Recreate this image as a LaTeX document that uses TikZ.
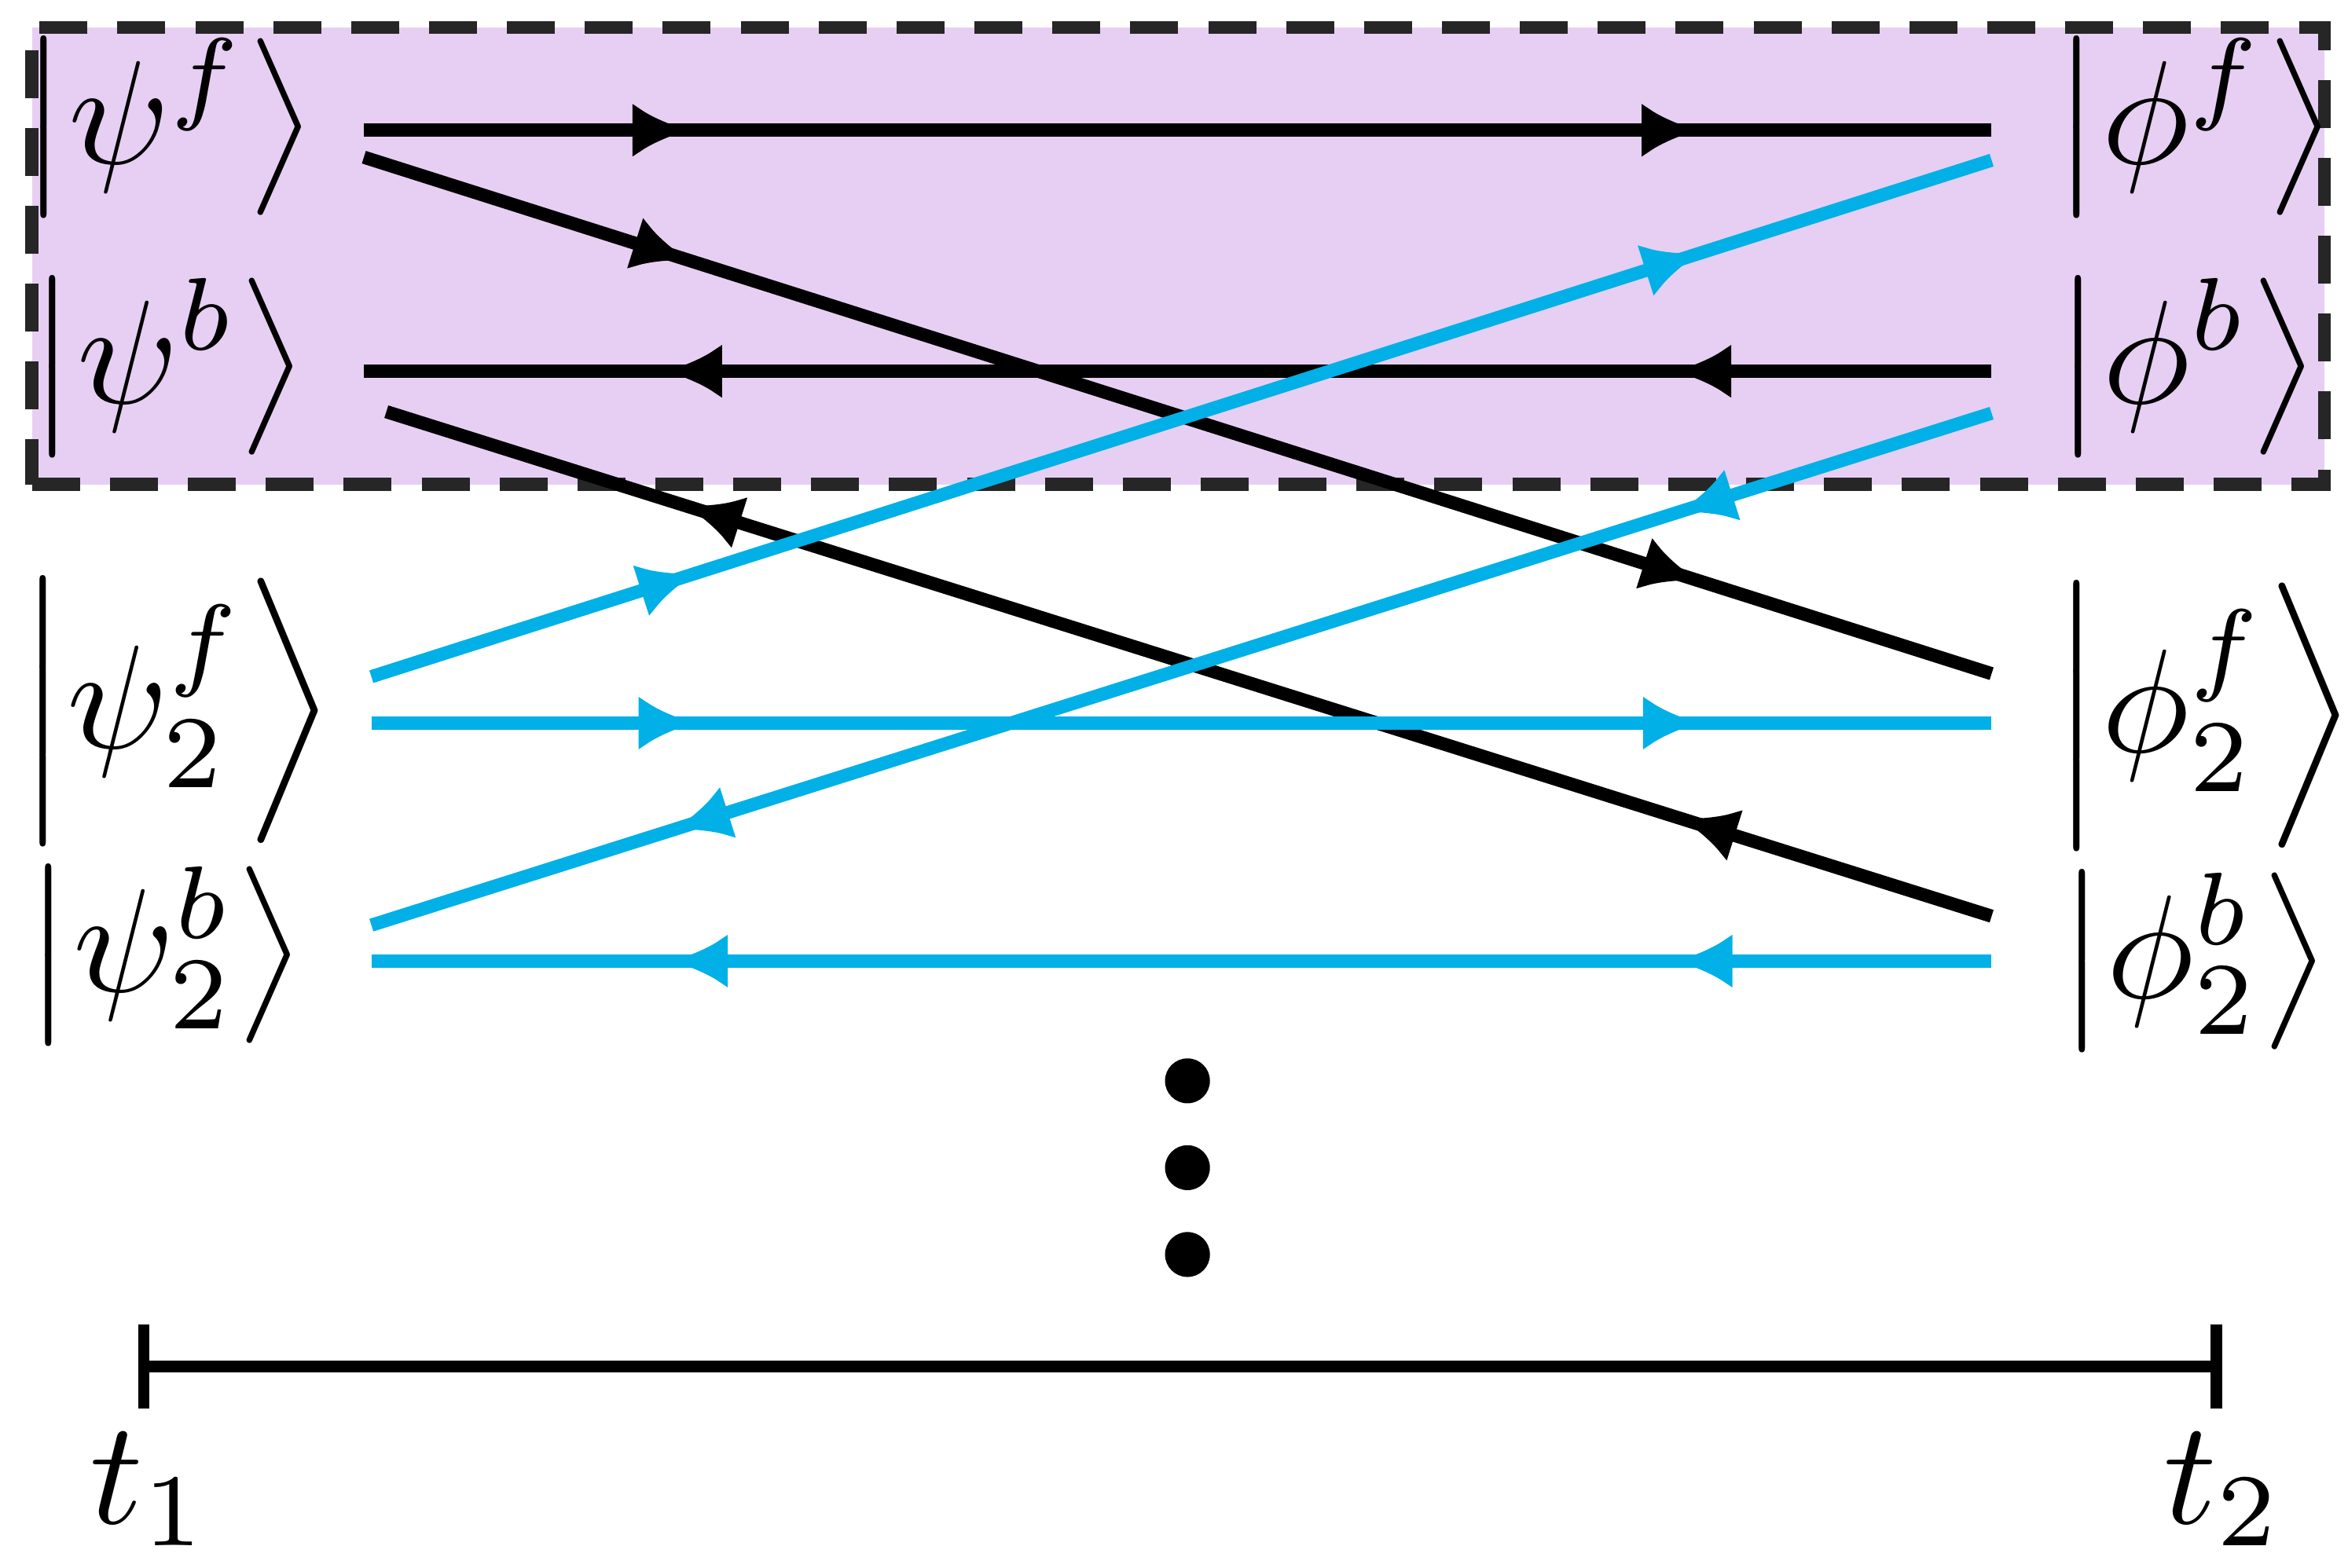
\documentclass[tikz,border=0pt]{standalone}
\usetikzlibrary{arrows.meta,decorations.markings}
\definecolor{lav}{RGB}{231,207,243}
\definecolor{cy}{RGB}{0,176,230}
\tikzset{
  fw/.style={line width=2.5pt,postaction={decorate},decoration={markings,
    mark=at position 0.2 with {\arrow{Latex[length=0.38cm,width=0.36cm]}},
    mark=at position 0.82 with {\arrow{Latex[length=0.38cm,width=0.36cm]}}}},
  bw/.style={line width=2.5pt,postaction={decorate},decoration={markings,
    mark=at position 0.22 with {\arrow{Latex[length=0.38cm,width=0.36cm,reversed]}},
    mark=at position 0.84 with {\arrow{Latex[length=0.38cm,width=0.36cm,reversed]}}}},
  lbl/.style={inner sep=0pt},
  dot/.style={circle,fill=black,minimum size=0.3cm,inner sep=0pt}
}
\newcommand{\mybig}[1]{\scalebox{2.8}{$#1$}}
\begin{document}
\begin{tikzpicture}[x={(0.01cm,0)},y={(0,-0.01cm)}]
\useasboundingbox (0,0) rectangle (1568,1047);
\node[draw=black!85,line width=2.5pt,dash pattern=on 0.32cm off 0.2cm,fill=lav,minimum width=15.3cm,minimum height=3.05cm,anchor=north west] (box) at (17,14) {};
\foreach \n/\x/\y in {a1/243/87,a2/1330/87,b1/243/105,b2/1330/450,c1/243/248,c2/1330/248,d1/258/275,d2/1330/612,
  e1/248/452,e2/1330/107,f1/248/483,f2/1330/483,g1/248/618,g2/1330/276,h1/248/642,h2/1330/642}
  {\coordinate (\n) at (\x,\y);}
\draw[fw] (a1) -- (a2);
\draw[fw] (b1) -- (b2);
\draw[bw] (c1) -- (c2);
\draw[bw] (d1) -- (d2);
\draw[fw,cy] (e1) -- (e2);
\draw[fw,cy] (f1) -- (f2);
\draw[bw,cy] (g1) -- (g2);
\draw[bw,cy] (h1) -- (h2);
\node[lbl] (l1) at (112,85) {\mybig{\left|\psi^f\right\rangle}};
\node[lbl] (l2) at (112,245) {\mybig{\left|\psi^b\right\rangle}};
\node[lbl] (l3) at (118,475) {\mybig{\left|\psi_2^f\right\rangle}};
\node[lbl] (l4) at (110,638) {\mybig{\left|\psi_2^b\right\rangle}};
\node[lbl] (r1) at (1465,85) {\mybig{\left|\phi^f\right\rangle}};
\node[lbl] (r2) at (1460,245) {\mybig{\left|\phi^b\right\rangle}};
\node[lbl] (r3) at (1472,478) {\mybig{\left|\phi_2^f\right\rangle}};
\node[lbl] (r4) at (1465,642) {\mybig{\left|\phi_2^b\right\rangle}};
\node[dot] (p1) at (793,722) {};
\node[dot] (p2) at (793,780) {};
\node[dot] (p3) at (793,838) {};
\coordinate (t1) at (96,913); \coordinate (t2) at (1480,913);
\draw[line width=2.2pt] (t1) -- (t2);
\draw[line width=2.2pt] ([yshift=0.28cm]t1) -- ([yshift=-0.28cm]t1);
\draw[line width=2.2pt] ([yshift=0.28cm]t2) -- ([yshift=-0.28cm]t2);
\node[lbl] (n1) at (100,995) {\mybig{t_1}};
\node[lbl] (n2) at (1485,995) {\mybig{t_2}};
\end{tikzpicture}
\end{document}
